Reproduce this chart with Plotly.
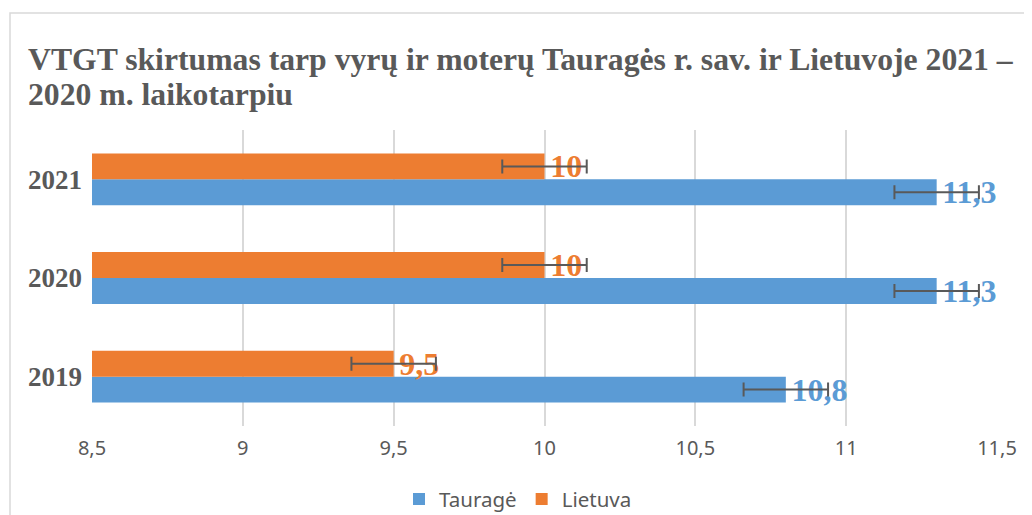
import plotly.graph_objects as go

years = ["2019", "2020", "2021"]
taurage = [10.8, 11.3, 11.3]
lietuva = [9.5, 10.0, 10.0]
err_taurage = [0.14, 0.14, 0.14]
err_lietuva = [0.14, 0.14, 0.14]
series_names = ["Tauragė", "Lietuva"]
x_ticks = [8.5, 9, 9.5, 10, 10.5, 11, 11.5]
title_lines = ["VTGT skirtumas tarp vyrų ir moterų Tauragės r. sav. ir Lietuvoje 2021 –",
               "2020 m. laikotarpiu"]

BLUE = "#5B9BD5"
ORANGE = "#ED7D31"
GRAY = "#595959"

# page body has an 8px margin; work in figure coordinates (page - 8)
OFF = 8


def fmt(v):
    return ("%g" % v).replace(".", ",")


fig = go.Figure()
for name, vals, errs, col in [
    (series_names[0], taurage, err_taurage, BLUE),
    (series_names[1], lietuva, err_lietuva, ORANGE),
]:
    fig.add_trace(go.Bar(
        y=years, x=vals, name=name, orientation="h",
        marker=dict(color=col, line=dict(width=0)),
        error_x=dict(type="data", array=errs, visible=True, color=GRAY, thickness=2, width=7),
        text=["\u200a" + fmt(v) for v in vals],
        textposition="outside",
        constraintext="none",
        cliponaxis=False,
        textfont=dict(family="Liberation Serif", size=32, color=col, weight="bold"),
    ))

W, H = 1032, 515
L = 92 - OFF
T = 129.5 - OFF
R = W - (997 - OFF)
B = H - (426.5 - OFF)
pw = W - L - R
ph = H - T - B


def px_x(x):  # page x -> paper
    return (x - OFF - L) / pw


def px_y(y):  # page y -> paper
    return (H - B - (y - OFF)) / ph


annotations = []
for i, (line, yc) in enumerate(zip(title_lines, [59, 94])):
    annotations.append(dict(
        text=line, xref="paper", yref="paper", x=px_x(26), y=px_y(yc),
        xanchor="left", yanchor="middle", showarrow=False,
        font=dict(family="Liberation Serif", size=31.7, color=GRAY, weight="bold"),
    ))

fig.update_layout(
    width=W, height=H,
    margin=dict(l=L, r=R, t=T, b=B, autoexpand=False),
    paper_bgcolor="white", plot_bgcolor="white",
    separators=",.",
    barmode="group", bargap=0.475, bargroupgap=0,
    annotations=annotations,
    xaxis=dict(
        range=[8.5, 11.5], tickvals=x_ticks, showgrid=True, gridcolor="#d9d9d9", gridwidth=1.5,
        zeroline=False, showline=False, ticks="",
        tickfont=dict(family="Noto Sans", size=20, color=GRAY),
        ticklabelstandoff=8,
    ),
    yaxis=dict(
        type="category", categoryorder="array", categoryarray=years,
        showgrid=False, zeroline=False, showline=False, ticks="",
        tickfont=dict(family="Liberation Serif", size=27, color=GRAY, weight="bold"),
        ticklabelstandoff=9,
    ),
    legend=dict(
        orientation="h", x=px_x(518), xanchor="center", y=px_y(500), yanchor="middle",
        font=dict(family="Noto Sans", size=20.5, color=GRAY),
        traceorder="normal",
    ),
    shapes=[dict(
        type="rect", xref="paper", yref="paper",
        x0=px_x(10), x1=px_x(1060), y0=px_y(540), y1=px_y(12),
        line=dict(color="#d9d9d9", width=1.5), fillcolor="rgba(0,0,0,0)", layer="below",
    )],
    showlegend=True,
)

fig.write_html("out.html")
